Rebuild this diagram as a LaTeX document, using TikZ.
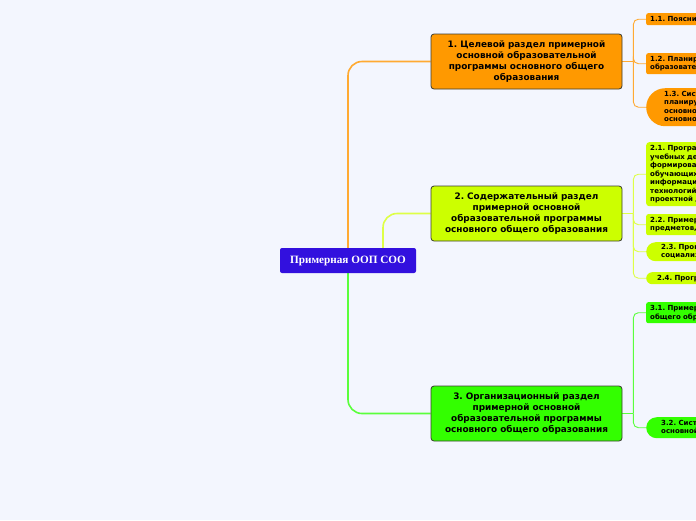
\documentclass[tikz,border=0pt]{standalone}
\usepackage{fontspec}
\usetikzlibrary{calc,backgrounds}
\newfontfamily\dvs{DejaVu Sans}
\newfontfamily\rootserif{Liberation Serif}
\frenchspacing
\definecolor{bg}{RGB}{243,246,254}
\definecolor{rootblue}{RGB}{50,16,222}
\definecolor{orangeA}{RGB}{255,153,0}
\definecolor{yellowA}{RGB}{204,255,0}
\definecolor{greenA}{RGB}{51,255,0}
\definecolor{orangeL}{RGB}{255,170,50}
\definecolor{yellowL}{RGB}{222,255,70}
\definecolor{greenL}{RGB}{90,255,60}
\definecolor{bordercol}{RGB}{60,60,50}
\pgfdeclarelayer{back}
\pgfsetlayers{back,background,main}
\begin{document}
\begin{tikzpicture}[x=1pt,y=-1pt,
  mainbox/.style={draw=bordercol, line width=0.8pt, rounded corners=3pt,
    minimum width=191pt, minimum height=55pt, text width=187pt, align=center,
    inner sep=0pt, font=\dvs\bfseries\frenchspacing\fontsize{8.9}{11}\selectfont},
  rootbox/.style={fill=rootblue, rounded corners=2pt, minimum width=136pt,
    minimum height=25pt, inner sep=0pt, text=white,
    font=\rootserif\bfseries\fontsize{11.2}{12}\selectfont},
  childbox/.style={anchor=north west, align=left, text width=300pt,
    inner xsep=4pt, inner ysep=1pt, rounded corners=2pt,
    font=\dvs\bfseries\frenchspacing\fontsize{7}{8.5}\selectfont},
  pillbox/.style={childbox, inner xsep=#1},
  trunk/.style={line width=1.6pt, rounded corners=14pt},
  twig/.style={line width=0.9pt, rounded corners=5pt}
]
\begin{pgfonlayer}{back}
\fill[bg] (0,0) rectangle (696,520);
\end{pgfonlayer}
\useasboundingbox (0,0) rectangle (696,520);
\clip (0,0) rectangle (696,520);

% main nodes
\node[rootbox] (root) at (348,260.5) {Примерная ООП СОО};
\node[mainbox, fill=orangeA] (n1) at (526.5,61.5)
  {1. Целевой раздел примерной\\основной образовательной\\программы основного общего\\образования};
\node[mainbox, fill=yellowA] (n2) at (526.5,213.5)
  {2. Содержательный раздел\\примерной основной\\образовательной программы\\основного общего образования};
\node[mainbox, fill=greenA] (n3) at (526.5,413.5)
  {3. Организационный раздел\\примерной основной\\образовательной программы\\основного общего образования};

% children of 1
\node[childbox, fill=orangeA, minimum height=12pt] (c11) at (646,13)
  {1.1. Пояснительная записка};
\node[childbox, fill=orangeA, minimum height=21pt] (c12) at (646,53)
  {1.2. Планируемые результаты освоения обучающимися основной\\образовательной программы основного общего образования};
\node[pillbox=18pt, fill=orangeA, minimum height=38pt, rounded corners=19pt] (c13) at (646,88)
  {1.3. Система оценки достижения\\планируемых результатов освоения\\основной образовательной программы\\основного общего образования};

% children of 2
\node[childbox, fill=yellowA, minimum height=64pt, rounded corners=3pt] (c21) at (646,142)
  {2.1. Программа развития универсальных\\учебных действий (программа\\формирования общеучебных умений)\\обучающихся, включающая\\информационно-коммуникационных\\технологий, учебно-исследовательской и\\проектной деятельности};
\node[childbox, fill=yellowA, minimum height=21pt] (c22) at (646,214)
  {2.2. Примерные программы отдельных учебных\\предметов, курсов};
\node[pillbox=15pt, fill=yellowA, minimum height=19pt, rounded corners=9.5pt] (c23) at (646,242)
  {2.3. Программа воспитания и\\социализации обучающихся};
\node[pillbox=11pt, fill=yellowA, minimum height=12pt, rounded corners=6pt] (c24) at (646,272)
  {2.4. Программа коррекционной работы};

% children of 3
\node[childbox, fill=greenA, minimum height=21pt] (c31) at (646,302)
  {3.1. Примерный учебный план основного\\общего образования};
\node[pillbox=15pt, fill=greenA, minimum height=21pt, rounded corners=10.5pt] (c32) at (646,417)
  {3.2. Система условий реализации\\основной образовательной программы};

\coordinate (r2) at ($(root.north)+(35,0)$);
\coordinate (j1) at ($(n1.east)+(11,0)$);
\coordinate (j2) at ($(n2.east)+(11,0)$);
\coordinate (j3) at ($(n3.east)+(11,0)$);

\begin{scope}[on background layer]
% trunk connectors
\draw[trunk, orangeL] (root.north) |- (n1.west);
\draw[trunk, yellowL] (r2) |- (n2.west);
\draw[trunk, greenL] (root.south) |- (n3.west);
% child connectors
\draw[twig, orangeL] (n1.east) -- (j1);
\draw[twig, orangeL] (j1) |- (c11.west);
\draw[twig, orangeL] (j1) |- (c12.west);
\draw[twig, orangeL] (j1) |- (c13.west);
\draw[twig, yellowL] (n2.east) -- (j2);
\draw[twig, yellowL] (j2) |- (c21.west);
\draw[twig, yellowL] (j2) |- (c22.west);
\draw[twig, yellowL] (j2) |- (c23.west);
\draw[twig, yellowL] (j2) |- (c24.west);
\draw[twig, greenL] (n3.east) -- (j3);
\draw[twig, greenL] (j3) |- (c31.west);
\draw[twig, greenL] (j3) |- (c32.west);
\end{scope}
\end{tikzpicture}
\end{document}
